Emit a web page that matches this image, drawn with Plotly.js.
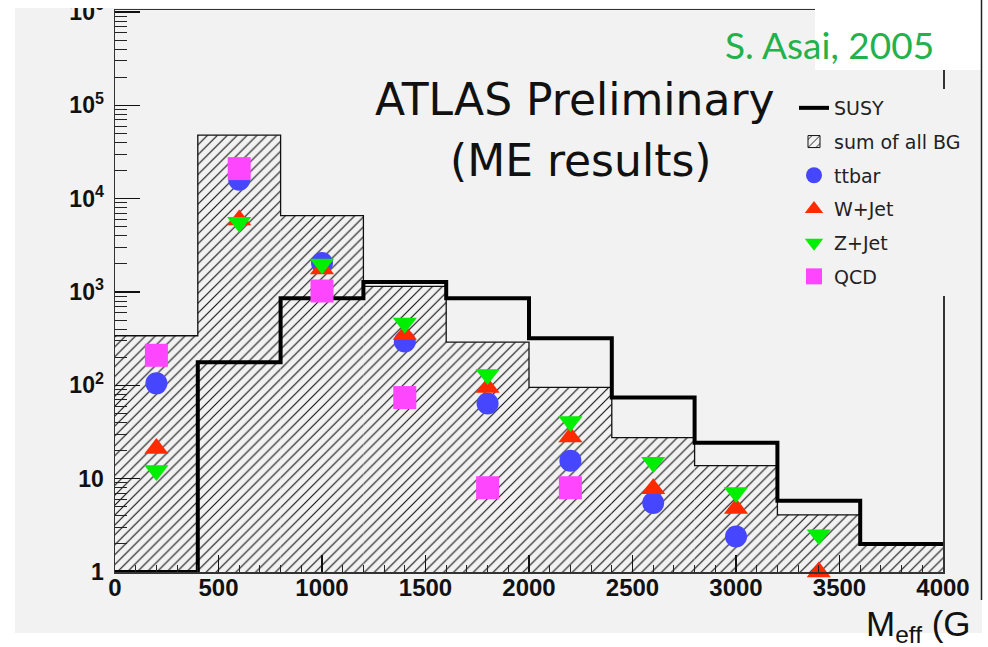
<!DOCTYPE html>
<html><head><meta charset="utf-8">
<script src="https://cdn.plot.ly/plotly-3.0.1.min.js"></script>
<style>html,body{margin:0;padding:0;background:#fff;overflow:hidden}</style>
</head><body><div id="chart" style="width:988px;height:647px"></div>
<script>
// ---- data ----
const binEdges = [0, 400, 800, 1200, 1600, 2000, 2400, 2800, 3200, 3600, 4000];
const bgSum    = [340, 48000, 6600, 1150, 290, 95, 27.5, 13.8, 4.1, 1.95];
const susy     = [0, 177, 860, 1280, 860, 320, 74, 24.3, 5.8, 2.0];
const markerX  = [200, 600, 1000, 1400, 1800, 2200, 2600, 3000, 3400];
const ttbar    = [105, 16000, 2050, 295, 64, 15.6, 5.5, 2.4, null];
const wjet     = [21, 5900, 1770, 350, 95, 28, 7.8, 4.8, 1.0];
const zjet     = [12.2, 5600, 2000, 465, 131, 41, 15, 7.1, 2.5];
const qcd      = [210, 21000, 1025, 74, 8.0, 8.0, null, null, null];
const xTickVals = [0, 500, 1000, 1500, 2000, 2500, 3000, 3500, 4000];
const yTickVals = [1, 10, 100, 1000, 10000, 100000, 1000000];
const yTickText = ['1', '10', '10<sup>2</sup>', '10<sup>3</sup>', '10<sup>4</sup>', '10<sup>5</sup>', '10<sup>6</sup>'];
const names = ['SUSY', 'sum of all BG', 'ttbar', 'W+Jet', 'Z+Jet', 'QCD'];

// ---- derived ----
const binCenters = binEdges.slice(0, -1).map((e, i) => (e + binEdges[i + 1]) / 2);
const binWidths = binEdges.slice(0, -1).map((e, i) => binEdges[i + 1] - e);
const YMIN = 1;
const stepY = arr => arr.concat([arr[arr.length - 1]]).map(v => (v > 0 ? v : YMIN));
const minorY = [];
for (let d = 0; d < 6; d++) for (let k = 2; k <= 9; k++) minorY.push(k * Math.pow(10, d));

// pixel helpers for decorations (plot area 115..943 x 10..572)
const L = 115, R = 943, T = 10, B = 572;
const px = x => (x - L) / (R - L);
const py = y => (B - y) / (B - T);

const hatch = {shape: '/', fgcolor: '#111', bgcolor: '#f2f2f2', size: 7, solidity: 0.16};
const mk = (name, ys, symbol, color, size, rank) => ({
  type: 'scatter', mode: 'markers', x: markerX, y: ys, name: name,
  marker: {symbol: symbol, color: color, size: size, line: {width: 0}},
  cliponaxis: false, legendgroup: name, legendrank: rank
});

const traces = [
  {type: 'bar', x: binCenters, y: bgSum, width: binWidths, name: names[1],
   marker: {color: '#f2f2f2', pattern: hatch, line: {width: 0}}, showlegend: false},
  {type: 'scatter', mode: 'lines', x: binEdges, y: stepY(bgSum), line: {shape: 'hv', color: '#111', width: 1.3},
   showlegend: false},
  {type: 'scatter', mode: 'lines', x: binEdges, y: stepY(susy), name: names[0],
   line: {shape: 'hv', color: '#000', width: 4}, legendgroup: 'susy', legendrank: 1},
  {type: 'bar', x: [null], y: [null], name: names[1], legendgroup: 'bg', legendrank: 2,
   marker: {color: '#f2f2f2', pattern: hatch, line: {width: 1, color: '#111'}}},
  mk(names[2], ttbar, 'circle', '#4646ff', 22, 3),
  mk(names[3], wjet, 'triangle-up', '#ff2a00', 21, 4),
  mk(names[4], zjet, 'triangle-down', '#00ee00', 21, 5),
  mk(names[5], qcd, 'square', '#ff46ff', 23, 6)
];

const layout = {
  width: 988, height: 647,
  margin: {l: L, r: 988 - R, t: T, b: 647 - B, pad: 0},
  paper_bgcolor: '#ffffff', plot_bgcolor: '#f2f2f2',
  barmode: 'overlay', showlegend: true,
  font: {family: 'Liberation Sans, Arial, sans-serif', color: '#111'},
  xaxis: {
    range: [0, 4000], tickmode: 'array', tickvals: xTickVals,
    ticks: 'inside', ticklen: 17, tickwidth: 1.2, tickcolor: '#111',
    minor: {dtick: 100, ticks: 'inside', ticklen: 7, tickwidth: 1, tickcolor: '#222', showgrid: false},
    showline: true, linecolor: '#333', linewidth: 1.5, mirror: true,
    showgrid: false, zeroline: false, ticklabelstandoff: -6,
    tickfont: {family: 'Liberation Sans, Arial, sans-serif', size: 24, weight: 'bold', color: '#111'}
  },
  yaxis: {
    type: 'log', range: [0, 6.022], tickmode: 'array', tickvals: yTickVals, ticktext: yTickText,
    ticks: 'inside', ticklen: 25, tickwidth: 1.2, tickcolor: '#111',
    minor: {tickmode: 'array', tickvals: minorY, ticks: 'inside', ticklen: 12, tickwidth: 1, tickcolor: '#222', showgrid: false},
    showline: true, linecolor: '#333', linewidth: 1.5, mirror: true,
    showgrid: false, zeroline: false, ticklabelstandoff: 5, ticklabeloverflow: 'allow',
    tickfont: {family: 'Liberation Sans, Arial, sans-serif', size: 23, weight: 'bold', color: '#111'}
  },
  legend: {
    x: px(794), y: py(89), xanchor: 'left', yanchor: 'top',
    bgcolor: '#f2f2f2', borderwidth: 0, traceorder: 'grouped', tracegroupgap: 6,
    font: {family: 'DejaVu Sans, sans-serif', size: 19, color: '#222'}
  },
  shapes: [
    {type: 'rect', xref: 'paper', yref: 'paper', layer: 'below',
     x0: px(15), x1: px(982), y0: py(633), y1: py(8), fillcolor: '#f2f2f2', line: {width: 0}},
    {type: 'rect', xref: 'paper', yref: 'paper', layer: 'above',
     x0: px(0), x1: px(988), y0: py(8), y1: py(-2), fillcolor: '#ffffff', line: {width: 0}},
    {type: 'rect', xref: 'paper', yref: 'paper', layer: 'above',
     x0: px(815), x1: px(981), y0: py(70), y1: py(-2), fillcolor: '#ffffff', line: {width: 0}},
    {type: 'line', xref: 'paper', yref: 'paper', layer: 'above',
     x0: px(981.5), x1: px(981.5), y0: py(600), y1: py(-2), line: {color: '#222', width: 1.5}}
  ],
  annotations: [
    {text: 'ATLAS Preliminary', xref: 'paper', yref: 'paper', x: px(575), y: py(99),
     xanchor: 'center', yanchor: 'middle', showarrow: false,
     font: {family: 'DejaVu Sans, sans-serif', size: 44, color: '#111'}},
    {text: '(ME results)', xref: 'paper', yref: 'paper', x: px(581), y: py(160),
     xanchor: 'center', yanchor: 'middle', showarrow: false,
     font: {family: 'DejaVu Sans, sans-serif', size: 44, color: '#111'}},
    {text: 'S. Asai, 2005', xref: 'paper', yref: 'paper', x: px(829), y: py(44),
     xanchor: 'center', yanchor: 'middle', showarrow: false,
     font: {family: 'Lato, sans-serif', size: 37, color: '#22b14c'}},
    {text: 'M<sub>eff</sub> (G', xref: 'paper', yref: 'paper', x: px(864), y: py(626),
     xanchor: 'left', yanchor: 'middle', showarrow: false,
     font: {family: 'Liberation Sans, Arial, sans-serif', size: 35, color: '#111'}}
  ],
  hovermode: false
};

Plotly.newPlot('chart', traces, layout, {staticPlot: true, displayModeBar: false});
</script></body></html>
